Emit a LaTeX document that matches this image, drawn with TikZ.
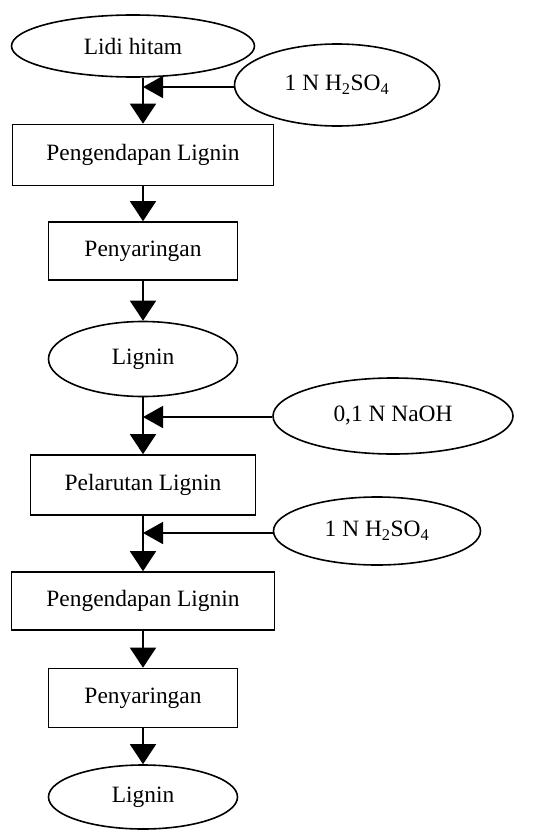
\documentclass[tikz,border=0pt]{standalone}
\usepackage{fontspec}
\setmainfont{Liberation Serif}
\usetikzlibrary{shapes.geometric,arrows.meta}
\begin{document}
\begin{tikzpicture}[x=1bp,y=-1bp,
  every node/.style={font=\fontsize{23.5}{26}\selectfont, line width=1.6bp, inner sep=0pt},
  oval/.style={draw, ellipse},
  stepbox/.style={draw, rectangle},
  flow/.style={line width=1.6bp, -{Triangle[length=20bp,width=26bp]}},
  feed/.style={line width=1.6bp, -{Triangle[length=20bp,width=22bp]}}]
\useasboundingbox (0,0) rectangle (537,839);
\node[oval, minimum width=243bp, minimum height=62bp] (lidi) at (133,46) {Lidi hitam};
\node[oval, minimum width=205bp, minimum height=82bp] (h1) at (337,85) {1 N H\textsubscript{2}SO\textsubscript{4}};
\node[stepbox, minimum width=261bp, minimum height=61bp] (b1) at (143,155) {Pengendapan Lignin};
\node[stepbox, minimum width=189bp, minimum height=58bp] (b2) at (143,251) {Penyaringan};
\node[oval, minimum width=189bp, minimum height=75bp] (l1) at (143,359) {Lignin};
\node[oval, minimum width=240bp, minimum height=76bp] (naoh) at (393,416) {0,1 N NaOH};
\node[stepbox, minimum width=225bp, minimum height=60bp] (b3) at (143,485) {Pelarutan Lignin};
\node[oval, minimum width=207bp, minimum height=68bp] (h2) at (377,531) {1 N H\textsubscript{2}SO\textsubscript{4}};
\node[stepbox, minimum width=263bp, minimum height=58bp] (b4) at (143,601) {Pengendapan Lignin};
\node[stepbox, minimum width=189bp, minimum height=59bp] (b5) at (143,698) {Penyaringan};
\node[oval, minimum width=189bp, minimum height=64bp] (l2) at (143,797) {Lignin};
\coordinate (j1) at (143,87);
\coordinate (j2) at (143,417);
\coordinate (j3) at (143,533);
\draw[line width=1.6bp] (j1 |- lidi.south) -- (j1);
\draw[flow] (j1) -- (b1.north);
\draw[feed] (h1.west |- j1) -- (j1);
\draw[flow] (b1.south) -- (b2.north);
\draw[flow] (b2.south) -- (l1.north);
\draw[line width=1.6bp] (l1.south) -- (j2);
\draw[flow] (j2) -- (b3.north);
\draw[feed] (naoh.west |- j2) -- (j2);
\draw[line width=1.6bp] (b3.south) -- (j3);
\draw[flow] (j3) -- (b4.north);
\draw[feed] (h2.west |- j3) -- (j3);
\draw[flow] (b4.south) -- (b5.north);
\draw[flow] (b5.south) -- (l2.north);
\end{tikzpicture}
\end{document}
